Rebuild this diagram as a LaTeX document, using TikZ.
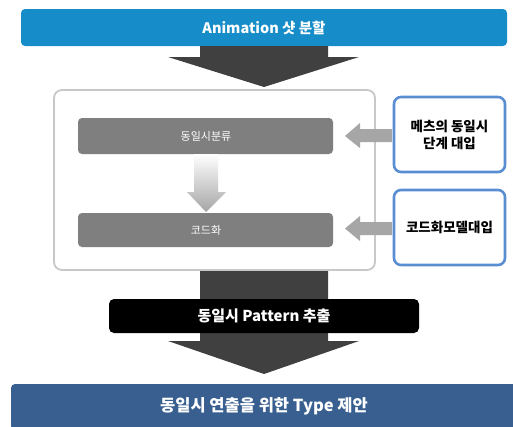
\documentclass[tikz,border=0pt]{standalone}
\usepackage{fontspec}
\setmainfont{Noto Sans CJK KR}
\newfontfamily\kr{Noto Sans CJK KR}
\usetikzlibrary{shapes.arrows}
\definecolor{topblue}{HTML}{168DC9}
\definecolor{botblue}{HTML}{385F8F}
\definecolor{darkarr}{HTML}{404040}
\definecolor{innergray}{HTML}{7F7F7F}
\definecolor{sidegray}{HTML}{A6A6A6}
\definecolor{contborder}{HTML}{C8C8C8}
\definecolor{sideblue}{HTML}{5A8ED2}
\tikzset{
  bar/.style={text=white, font=\kr\bfseries\fontsize{14.5}{16}\selectfont},
  innerbox/.style={text=white, font=\kr\fontsize{11}{13}\selectfont},
  sidebox/.style={draw=sideblue, line width=2.6pt, fill=white, rounded corners=7pt, font=\kr\bfseries\fontsize{13.5}{17}\selectfont, align=center},
  bigarrow/.style={fill=darkarr},
  sidearrow/.style={fill=sidegray},
}
\begin{document}
\begin{tikzpicture}[x=1pt,y=-1pt]
\useasboundingbox (0,0) rectangle (513,426);
% top bar
\fill[topblue, rounded corners=4pt] (21,9) rectangle (507,46);
\node[bar] (top) at (264,28) {Animation 샷 분할};
% top big arrow
\fill[bigarrow] (200,46) -- (328,46) -- (328,57) -- (359,57) -- (264,87) -- (168,57) -- (200,57) -- cycle;
% container
\draw[contborder, line width=1.8pt, rounded corners=8pt, fill=white] (54,90) rectangle (375,270);
% inner boxes
\fill[innergray, rounded corners=4pt] (78,118) rectangle (333,154);
\node[innerbox] (cls) at (206,136) {동일시분류};
\fill[innergray, rounded corners=4pt] (78,213) rectangle (333,247);
\node[innerbox] (code) at (206,230) {코드화};
% gradient arrow
\shade[top color=white, bottom color=gray!70] (194,154) -- (218,154) -- (218,192) -- (226,192) -- (206,212) -- (187,192) -- (194,192) -- cycle;
% side boxes
\node[sidebox, minimum width=111pt, minimum height=75pt] (s1) at (449.5,134.5) {메츠의 동일시\\단계 대입};
\node[sidebox, minimum width=111pt, minimum height=75pt] (s2) at (449.5,227.5) {코드화모델대입};
% side arrows
\fill[sidearrow] (392,129) -- (360,129) -- (360,123) -- (345,136) -- (360,148) -- (360,142) -- (392,142) -- cycle;
\fill[sidearrow] (392,222) -- (360,222) -- (360,216) -- (345,228.5) -- (360,241) -- (360,235) -- (392,235) -- cycle;
% bottom big arrow
\fill[bigarrow] (200,271) -- (328,271) -- (328,341) -- (359,341) -- (264,374) -- (168,341) -- (200,341) -- cycle;
% black bar
\fill[black, rounded corners=5pt] (109,299) rectangle (419,333);
\node[bar, font=\kr\bfseries\fontsize{15}{17}\selectfont] (pat) at (264,316) {동일시 Pattern 추출};
% bottom bar
\fill[botblue, rounded corners=4pt] (11,384) rectangle (520,430);
\node[bar, font=\kr\bfseries\fontsize{16.5}{18}\selectfont] (type) at (264,406) {동일시 연출을 위한 Type 제안};
\end{tikzpicture}
\end{document}
